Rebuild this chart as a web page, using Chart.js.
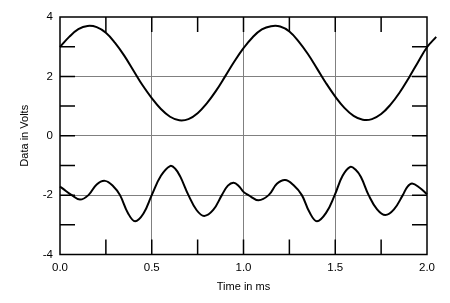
<!DOCTYPE html>
<html>
<head>
<meta charset="utf-8">
<script src="https://cdn.jsdelivr.net/npm/chart.js@4.4.1/dist/chart.umd.min.js"></script>
<style>
  body { margin: 0; background: #fff; }
  #wrap { width: 450px; height: 303px; }
</style>
</head>
<body>
<div id="wrap"><canvas id="chart" width="450" height="303"></canvas></div>
<script>
// upper trace, every 0.05 ms (runs a bit past 2.0)
const topTimes = [0, 0.05, 0.1, 0.15, 0.2, 0.25, 0.3, 0.35, 0.4, 0.45, 0.5, 0.55, 0.6, 0.65, 0.7, 0.75, 0.8, 0.85, 0.9, 0.95,
    1.0, 1.05, 1.1, 1.15, 1.2, 1.25, 1.3, 1.35, 1.4, 1.45, 1.5, 1.55, 1.6, 1.65, 1.7, 1.75, 1.8, 1.85, 1.9, 1.95, 2.0, 2.05]
const topVolts = [2.99, 3.33, 3.59, 3.70, 3.66, 3.47, 3.13, 2.70, 2.20, 1.70, 1.27, 0.90, 0.64, 0.52, 0.56, 0.76, 1.09, 1.51, 2.00, 2.50,
    2.95, 3.32, 3.58, 3.69, 3.68, 3.51, 3.18, 2.76, 2.27, 1.77, 1.32, 0.94, 0.67, 0.54, 0.56, 0.73, 1.04, 1.45, 1.94, 2.47, 2.98, 3.33]

// lower trace, extrema, crossings of the -2 V line and a few points between
const bottomTimes = [0, 0.032, 0.064, 0.109, 0.155, 0.2, 0.245, 0.29, 0.327, 0.37, 0.409, 0.455, 0.5, 0.55, 0.6, 0.628, 0.655, 0.7,
    0.745, 0.786, 0.835, 0.882, 0.915, 0.946, 0.975, 1.0, 1.027, 1.082, 1.137, 1.182, 1.227, 1.272, 1.318, 1.36, 1.4, 1.45, 1.497,
    1.54, 1.582, 1.61, 1.64, 1.682, 1.728, 1.773, 1.82, 1.868, 1.893, 1.919, 1.96, 2.0]
const bottomVolts = [-1.71, -1.86, -2.0, -2.15, -2.0, -1.64, -1.52, -1.70, -2.0, -2.60, -2.88, -2.62, -2.0, -1.35, -1.02, -1.11, -1.37, -2.0,
    -2.51, -2.70, -2.50, -2.0, -1.68, -1.58, -1.70, -1.89, -2.0, -2.17, -2.0, -1.62, -1.49, -1.66, -2.0, -2.58, -2.88, -2.60, -2.0,
    -1.35, -1.05, -1.14, -1.39, -2.0, -2.48, -2.67, -2.48, -2.0, -1.72, -1.61, -1.75, -1.97]

const xTicks = [0, 0.25, 0.5, 0.75, 1.0, 1.25, 1.5, 1.75, 2.0]
const yTicks = [-4, -3, -2, -1, 0, 1, 2, 3, 4]
const xLabels = ['0.0', '', '0.5', '', '1.0', '', '1.5', '', '2.0']
const yLabels = ['-4', '', '-2', '', '0', '', '2', '', '4']

const toPoints = (xs, ys) => xs.map((x, i) => ({x: x, y: ys[i]}))

const GRID = '#808080'
const font = {family: '"Liberation Sans", Arial, sans-serif', size: 11.5}

// frame plus the short inward ticks on all four sides
const frameTicks = {
    id: 'frameTicks',
    beforeDatasetsDraw(chart){
        const {ctx, chartArea: a, scales} = chart
        const len = 15
        ctx.save()
        ctx.strokeStyle = '#000'
        ctx.lineWidth = 1.5
        ctx.beginPath()
        for(const v of xTicks.slice(1, -1)){
            const px = scales.x.getPixelForValue(v)
            ctx.moveTo(px, a.top); ctx.lineTo(px, a.top + len)
            ctx.moveTo(px, a.bottom); ctx.lineTo(px, a.bottom - len)
        }
        for(const v of yTicks.slice(1, -1)){
            const py = scales.y.getPixelForValue(v)
            ctx.moveTo(a.left, py); ctx.lineTo(a.left + len, py)
            ctx.moveTo(a.right, py); ctx.lineTo(a.right - len, py)
        }
        ctx.stroke()
        ctx.strokeRect(a.left, a.top, a.right - a.left, a.bottom - a.top)
        ctx.restore()
    }
}

new Chart(document.getElementById('chart'), {
    type: 'line',
    data: {
        datasets: [
            {
                data: toPoints(topTimes, topVolts),
                borderColor: '#000',
                borderWidth: 2,
                pointRadius: 0,
                tension: 0.4,
                clip: false,
            },
            {
                data: toPoints(bottomTimes, bottomVolts),
                borderColor: '#000',
                borderWidth: 2,
                pointRadius: 0,
                tension: 0.4,
                clip: false,
            },
        ]
    },
    options: {
        responsive: false,
        animation: false,
        layout: {padding: {top: 17, right: 23, left: 0, bottom: 0}},
        plugins: {legend: {display: false}, tooltip: {enabled: false}},
        scales: {
            x: {
                type: 'linear',
                // range set here (not min/max) so the trace past 2.0 still gets drawn
                afterDataLimits: (s) => { s.min = 0; s.max = 2 },
                afterBuildTicks: (s) => { s.ticks = xTicks.map(v => ({value: v})) },
                afterFit: (s) => { s.height = 48.5 },
                ticks: {
                    autoSkip: false,
                    maxRotation: 0,
                    padding: 6,
                    color: '#000',
                    font: font,
                    callback: (v, i) => xLabels[i],
                },
                grid: {
                    drawTicks: false,
                    color: (c) => (c.tick && xLabels[xTicks.indexOf(c.tick.value)] && c.tick.value > 0 && c.tick.value < 2) ? GRID : 'rgba(0,0,0,0)',
                },
                border: {display: false},
                title: {
                    display: true,
                    text: 'Time in ms',
                    color: '#000',
                    font: {family: font.family, size: 11},
                    padding: {top: 0, bottom: 9},
                },
            },
            y: {
                min: -4,
                max: 4,
                afterBuildTicks: (s) => { s.ticks = yTicks.map(v => ({value: v})) },
                afterFit: (s) => { s.width = 60 },
                ticks: {
                    autoSkip: false,
                    padding: 7,
                    color: '#000',
                    font: font,
                    callback: (v, i) => yLabels[i],
                },
                grid: {
                    drawTicks: false,
                    color: (c) => (c.tick && yLabels[yTicks.indexOf(c.tick.value)] && Math.abs(c.tick.value) < 4) ? GRID : 'rgba(0,0,0,0)',
                },
                border: {display: false},
                title: {
                    display: true,
                    text: 'Data in Volts',
                    color: '#000',
                    font: {family: font.family, size: 11},
                    padding: {top: 18, bottom: 0},
                },
            },
        },
    },
    plugins: [frameTicks],
});
</script>
</body>
</html>
